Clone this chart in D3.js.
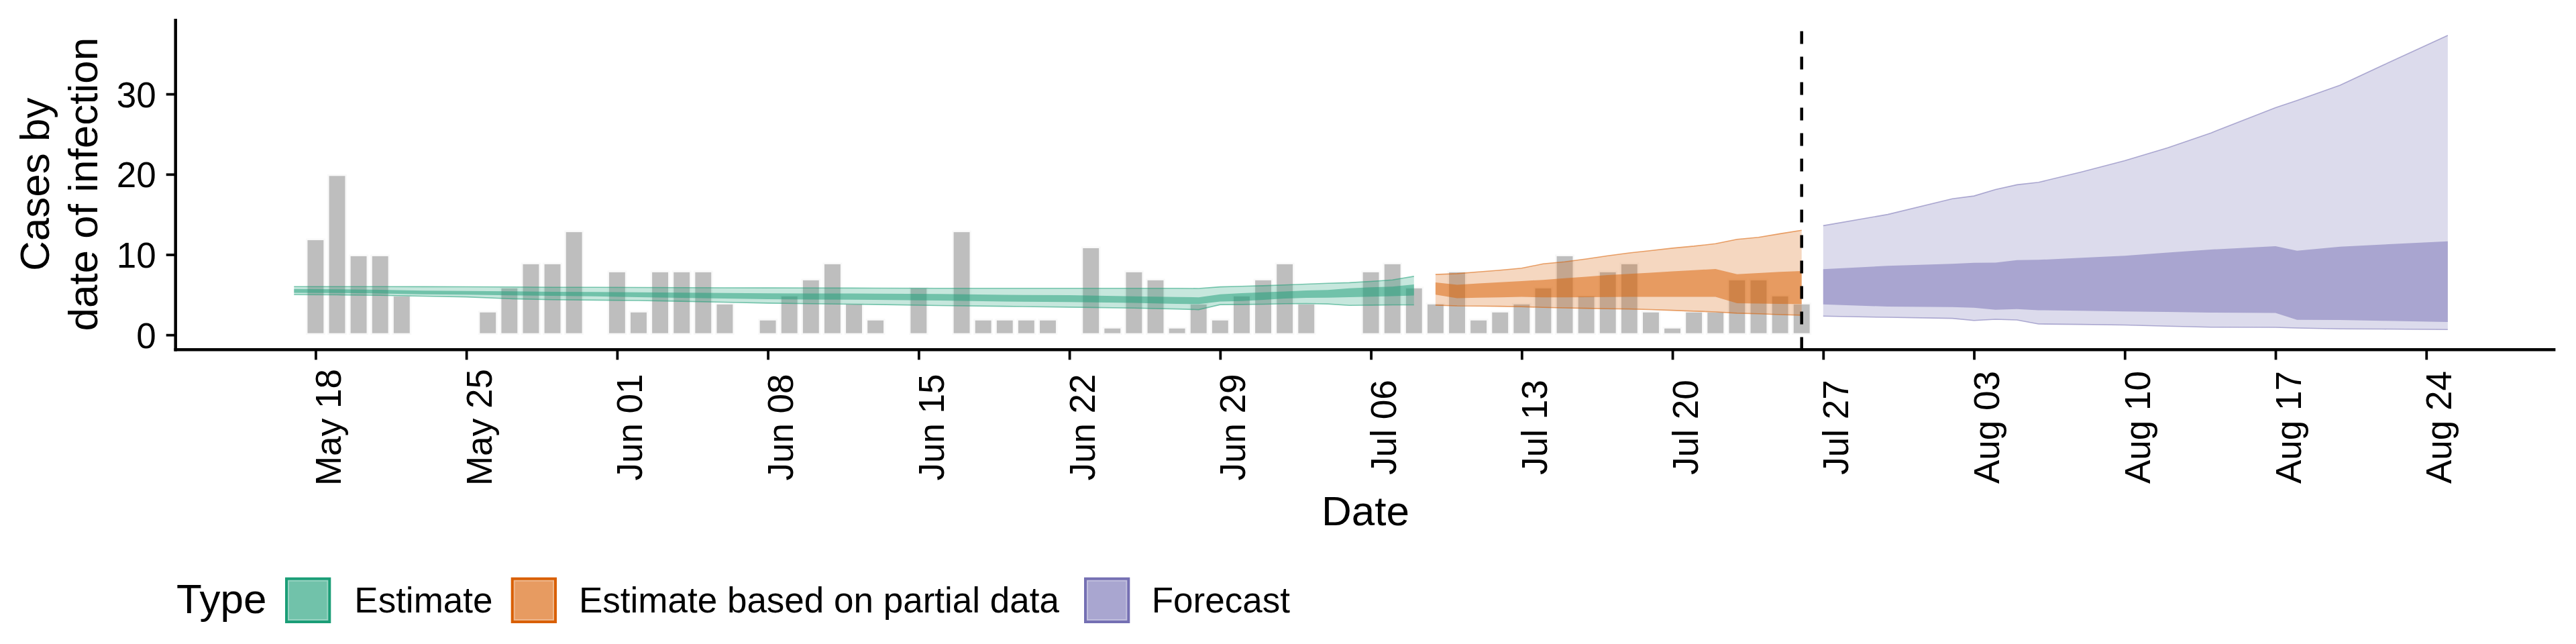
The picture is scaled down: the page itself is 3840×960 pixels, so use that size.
<!DOCTYPE html>
<html>
<head>
<meta charset="utf-8">
<script src="https://cdn.jsdelivr.net/npm/d3@7/dist/d3.min.js"></script>
<style>
  html, body { margin: 0; padding: 0; background: #ffffff; }
  svg { display: block; font-family: "Liberation Sans", Arial, Helvetica, sans-serif; }
</style>
</head>
<body>
<svg id="chart" width="3840" height="960"></svg>
<script>
// ---------------- DATA ----------------
// Reported cases (grey bars), one per day from 2020-05-18
const barStart = "2020-05-18";
const barValues = [
  12, 20, 10, 10, 5, 0, 0, 0, 3, 6, 9, 9, 13, 0,            // May 18 - May 31
  8, 3, 8, 8, 8, 4, 0, 2, 5, 7, 9, 4, 2, 0, 6, 0, 13,       // Jun 01 - Jun 17
  2, 2, 2, 2, 0, 11, 1, 8, 7, 1, 4, 2, 5,                   // Jun 18 - Jun 30
  7, 9, 4, 0, 0, 8, 9, 6, 4, 8, 2, 3, 4, 6, 10, 5, 8, 9,    // Jul 01 - Jul 18
  3, 1, 3, 3, 7, 7, 5, 4                                    // Jul 19 - Jul 26
];

// Estimate (green): 90% and 50% credible intervals
const estDates = ["2020-05-17","2020-05-19","2020-05-21","2020-05-23","2020-05-25","2020-05-27","2020-05-29","2020-05-31",
  "2020-06-02","2020-06-04","2020-06-06","2020-06-08","2020-06-10","2020-06-13","2020-06-16","2020-06-19","2020-06-22",
  "2020-06-25","2020-06-27","2020-06-28","2020-06-29","2020-06-30","2020-07-01","2020-07-02","2020-07-03","2020-07-04",
  "2020-07-05","2020-07-06","2020-07-07","2020-07-08"];
const estLo90 = [5.01,4.98,4.92,4.82,4.72,4.50,4.38,4.33,4.27,4.18,4.06,3.95,3.88,3.78,3.65,3.55,3.45,3.34,3.22,3.14,3.76,3.78,3.82,3.88,3.90,3.85,3.67,3.70,3.73,3.73];
const estLo50 = [5.23,5.22,5.15,5.04,5.01,4.92,4.85,4.80,4.70,4.60,4.52,4.45,4.40,4.36,4.28,4.15,4.08,3.98,3.86,3.84,4.14,4.22,4.36,4.52,4.60,4.63,4.70,4.76,4.82,4.90];
const estUp50 = [5.71,5.68,5.62,5.51,5.47,5.42,5.37,5.34,5.30,5.26,5.21,5.17,5.16,5.14,5.08,4.98,4.95,4.80,4.72,4.68,5.05,5.20,5.30,5.40,5.52,5.60,5.80,5.92,6.01,6.29];
const estUp90 = [6.01,6.01,6.01,6.00,5.99,5.97,5.93,5.92,5.90,5.88,5.86,5.85,5.84,5.82,5.80,5.80,5.80,5.80,5.80,5.78,5.98,6.05,6.12,6.22,6.32,6.42,6.50,6.66,6.85,7.29];

// Estimate based on partial data (orange)
const partDates = ["2020-07-09","2020-07-10","2020-07-11","2020-07-12","2020-07-13","2020-07-14","2020-07-15","2020-07-16",
  "2020-07-17","2020-07-18","2020-07-19","2020-07-20","2020-07-21","2020-07-22","2020-07-23","2020-07-24","2020-07-25","2020-07-26"];
const partLo90 = [3.70,3.61,3.58,3.55,3.50,3.42,3.35,3.30,3.25,3.22,3.15,3.05,2.95,2.86,2.70,2.62,2.52,2.45];
const partLo50 = [5.01,4.56,4.62,4.68,4.73,4.68,4.68,4.70,4.72,4.73,4.73,4.73,4.73,4.73,3.95,3.90,3.86,3.84];
const partUp50 = [6.54,6.23,6.40,6.55,6.70,6.85,7.05,7.25,7.45,7.60,7.75,7.90,8.05,8.20,7.55,7.70,7.85,7.96];
const partUp90 = [7.52,7.63,7.85,8.05,8.30,8.85,9.10,9.45,9.85,10.20,10.50,10.80,11.05,11.36,11.90,12.15,12.60,13.03];

// Forecast (purple)
const fcDates = ["2020-07-27","2020-07-30","2020-08-02","2020-08-03","2020-08-04","2020-08-05","2020-08-06","2020-08-08",
  "2020-08-10","2020-08-12","2020-08-14","2020-08-17","2020-08-18","2020-08-20","2020-08-22","2020-08-25"];
const fcLo90 = [2.33,2.18,2.05,1.79,1.94,1.85,1.35,1.30,1.23,1.08,0.95,0.93,0.85,0.75,0.72,0.66];
const fcLo50 = [3.79,3.52,3.45,3.37,3.13,3.20,3.07,3.00,2.92,2.85,2.77,2.72,1.88,1.85,1.75,1.61];
const fcUp50 = [8.18,8.60,8.85,8.98,9.00,9.30,9.34,9.60,9.85,10.25,10.62,11.04,10.47,10.98,11.25,11.64];
const fcUp90 = [13.6,15.0,16.95,17.3,18.1,18.7,19.0,20.3,21.7,23.3,25.15,28.3,29.2,31.1,33.6,37.3];

const forecastDate = "2020-07-26";
const yTicks = [0, 10, 20, 30];
const xTickStart = "2020-05-18";
const xTickEnd = "2020-08-24";
const legendLabels = ["Estimate", "Estimate based on partial data", "Forecast"];
const typeColors = ["#1B9E77", "#D95F02", "#7570B3"];

// ---------------- SCALES ----------------
const parse = d3.utcParse("%Y-%m-%d");
const day0 = parse(barStart);
const svg = d3.select("#chart");

const x = d3.scaleUtc()
  .domain([d3.utcHour.offset(day0, -6.463 * 24), d3.utcHour.offset(day0, 104.04 * 24)])
  .range([261.7, 3809.4]);
const y = d3.scaleLinear().domain([-1.875, 39.375]).range([521.6, 27.9]);
const dayPx = x(d3.utcDay.offset(day0, 1)) - x(day0);

function mix(hex, a) {
  const c = d3.rgb(hex);
  return d3.rgb(255 - a * (255 - c.r), 255 - a * (255 - c.g), 255 - a * (255 - c.b)).formatHex();
}

// ---------------- BARS ----------------
const bars = barValues.map((v, i) => ({ date: d3.utcDay.offset(day0, i), v }));
svg.append("g").selectAll("rect").data(bars.filter(d => d.v > 0)).join("rect")
  .attr("x", d => x(d.date) - 0.45 * dayPx)
  .attr("width", 0.9 * dayPx)
  .attr("y", d => y(d.v))
  .attr("height", d => y(0) - y(d.v))
  .attr("fill", "#BEBEBE")
  .attr("stroke", "#ffffff")
  .attr("stroke-width", 5)
  .attr("stroke-opacity", 0.9);

// ---------------- RIBBONS ----------------
function series(dates, lo90, lo50, up50, up90) {
  return dates.map((d, i) => ({ date: parse(d), lo90: lo90[i], lo50: lo50[i], up50: up50[i], up90: up90[i] }));
}
const groups = [
  series(estDates, estLo90, estLo50, estUp50, estUp90),
  series(partDates, partLo90, partLo50, partUp50, partUp90),
  series(fcDates, fcLo90, fcLo50, fcUp50, fcUp90)
];
const gR = svg.append("g");
groups.forEach((data, k) => {
  const col = typeColors[k];
  gR.append("path").datum(data)
    .attr("d", d3.area().x(d => x(d.date)).y0(d => y(d.lo90)).y1(d => y(d.up90)))
    .attr("fill", col).attr("fill-opacity", 0.25);
  ["lo90", "up90"].forEach(key => {
    gR.append("path").datum(data)
      .attr("d", d3.line().x(d => x(d.date)).y(d => y(d[key])))
      .attr("fill", "none").attr("stroke", col).attr("stroke-width", 1.6).attr("stroke-opacity", 0.55);
  });
  gR.append("path").datum(data)
    .attr("d", d3.area().x(d => x(d.date)).y0(d => y(d.lo50)).y1(d => y(d.up50)))
    .attr("fill", col).attr("fill-opacity", 0.5);
});

// ---------------- FORECAST LINE ----------------
svg.append("line")
  .attr("x1", x(parse(forecastDate))).attr("x2", x(parse(forecastDate)))
  .attr("y1", y.range()[0]).attr("y2", y.range()[1])
  .attr("stroke", "#000").attr("stroke-width", 4.5).attr("stroke-dasharray", "19 19");

// ---------------- AXES ----------------
const fontSmall = 53, fontBig = 62;
const gA = svg.append("g");
// y axis
const yAxis = d3.axisLeft(y).tickValues(yTicks).tickSize(14).tickPadding(0);
const gy = gA.append("g").attr("transform", "translate(261.7,0)").call(yAxis);
gy.select(".domain").remove();
gy.selectAll(".tick line").attr("stroke", "#000").attr("stroke-width", 3.8);
gy.selectAll(".tick text").remove();
gy.selectAll(".tick").append("text")
  .attr("x", -29).attr("y", 0.358 * fontSmall)
  .attr("text-anchor", "end").attr("fill", "#000")
  .style("font-size", fontSmall + "px")
  .text(d => d);

// x axis: weekly ticks on Mondays
const xTicks = d3.utcMonday.range(parse(xTickStart), d3.utcDay.offset(parse(xTickEnd), 1));
const xAxis = d3.axisBottom(x).tickValues(xTicks).tickSize(15).tickFormat(d3.utcFormat("%b %d"));
const gx = gA.append("g").attr("transform", "translate(0,521.3)").call(xAxis);
gx.select(".domain").remove();
gx.selectAll(".tick line").attr("stroke", "#000").attr("stroke-width", 3.8);
gx.selectAll(".tick text").remove();
gx.selectAll(".tick").append("text")
  .attr("transform", "translate(37," + (637 - 521.3) + ") rotate(-90)")
  .attr("text-anchor", "middle").attr("fill", "#000")
  .style("font-size", fontSmall + "px")
  .text(d3.utcFormat("%b %d"));

// axis lines
gA.append("line").attr("x1", 261.7).attr("x2", 261.7).attr("y1", 27.9).attr("y2", 523.5)
  .attr("stroke", "#000").attr("stroke-width", 4.5);
gA.append("line").attr("x1", 259.5).attr("x2", 3809.4).attr("y1", 521.3).attr("y2", 521.3)
  .attr("stroke", "#000").attr("stroke-width", 4.5);

// axis titles
svg.append("text").attr("transform", "translate(73.4,274.7) rotate(-90)")
  .attr("text-anchor", "middle").style("font-size", fontBig + "px").text("Cases by");
svg.append("text").attr("transform", "translate(144.5,274.7) rotate(-90)")
  .attr("text-anchor", "middle").style("font-size", fontBig + "px").text("date of infection");
svg.append("text").attr("x", (261.7 + 3809.4) / 2).attr("y", 783)
  .attr("text-anchor", "middle").style("font-size", fontBig + "px").text("Date");

// ---------------- LEGEND ----------------
const gL = svg.append("g");
gL.append("text").attr("x", 263).attr("y", 914).style("font-size", fontBig + "px").text("Type");
const keyX = [425, 761.7, 1616];
const textX = [528.3, 863, 1716.7];
legendLabels.forEach((lab, k) => {
  const col = typeColors[k];
  const kx = keyX[k], ky = 860.7, ks = 68.3;
  gL.append("rect").attr("x", kx + 2).attr("y", ky + 2).attr("width", ks - 4).attr("height", ks - 4)
    .attr("fill", mix(col, 0.45)).attr("stroke", col).attr("stroke-width", 4);
  gL.append("rect").attr("x", kx + 6).attr("y", ky + 6).attr("width", ks - 12).attr("height", ks - 12)
    .attr("fill", mix(col, 0.625));
  gL.append("text").attr("x", textX[k]).attr("y", 913).style("font-size", fontSmall + "px").text(lab);
});
</script>
</body>
</html>
